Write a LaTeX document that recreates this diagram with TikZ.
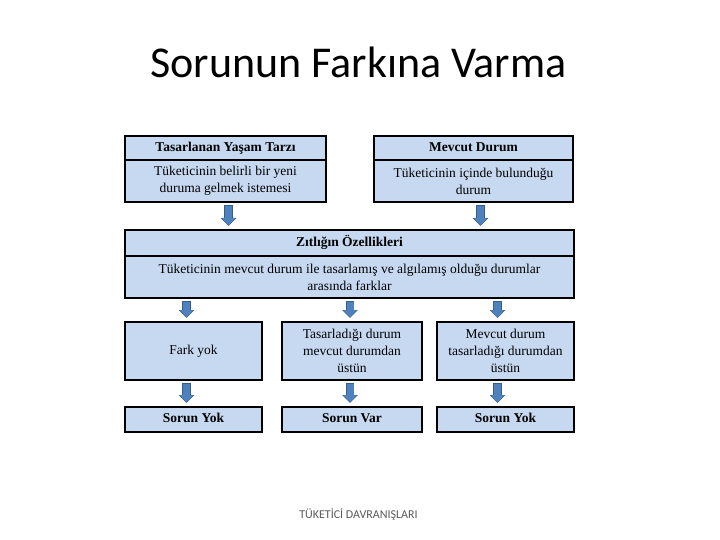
\documentclass[tikz,border=0pt]{standalone}
\usepackage{fontspec}
\setmainfont{Liberation Serif}
\newfontfamily\calibri{Carlito}
\usetikzlibrary{arrows.meta,calc}
\definecolor{boxfill}{RGB}{198,217,241}
\definecolor{arrowblue}{RGB}{79,129,189}
\definecolor{arrowedge}{RGB}{56,93,138}

\begin{document}
\begin{tikzpicture}[x=1pt, y=-1pt,
    box/.style={draw=black, line width=1.6pt, fill=boxfill, align=center,
        inner sep=0pt, font=\fontsize{13.5}{17}\selectfont},
    head/.style={box, font=\fontsize{13.5}{17}\selectfont\bfseries,
        text height=9.5pt, text depth=3pt},
    blk/.style={draw=arrowblue, line width=7pt,
        -{Triangle[length=7pt,width=13pt]}, shorten <=3pt, shorten >=4pt,
        preaction={draw=arrowedge, line width=8.4pt,
            -{Triangle[length=8pt,width=15pt]}, shorten <=2.3pt, shorten >=3.2pt}}]
    \useasboundingbox (0,0) rectangle (720,540);

    \node[font=\calibri\fontsize{44}{48}\selectfont, anchor=base] (title) at (358.5,78) {Sorunun Farkına Varma};

    \node[box, minimum width=201pt, minimum height=42pt] (tasBody) at (225.5,181)
        {Tüketicinin belirli bir yeni\\duruma gelmek istemesi};
    \node[head, minimum width=201pt, minimum height=24pt] (tasHead) at (225.5,148)
        {Tasarlanan Yaşam Tarzı};
    \node[box, minimum width=199pt, minimum height=42pt] (mevBody) at (473.5,181)
        {Tüketicinin içinde bulunduğu\\durum};
    \node[head, minimum width=199pt, minimum height=24pt] (mevHead) at (473.5,148)
        {Mevcut Durum};

    \node[box, minimum width=449pt, minimum height=42pt] (zitBody) at (349.5,277)
        {Tüketicinin mevcut durum ile tasarlamış ve algılamış olduğu durumlar\\arasında farklar};
    \node[head, minimum width=449pt, minimum height=26pt] (zitHead) at (349.5,243)
        {Zıtlığın Özellikleri};

    \node[box, minimum width=137pt, minimum height=58pt] (fark) at (193.5,351) {Fark yok};
    \node[box, minimum width=140pt, minimum height=58pt] (tasUst) at (352,351)
        {Tasarladığı durum\\mevcut durumdan\\üstün};
    \node[box, minimum width=137pt, minimum height=58pt] (mevUst) at (505.5,351)
        {Mevcut durum\\tasarladığı durumdan\\üstün};

    \node[head, minimum width=137pt, minimum height=25pt] (yok1) at (193.5,419.5) {Sorun Yok};
    \node[head, minimum width=140pt, minimum height=25pt] (var) at (352,419.5) {Sorun Var};
    \node[head, minimum width=137pt, minimum height=25pt] (yok2) at (505.5,419.5) {Sorun Yok};

    \draw[blk] ([xshift=3pt]tasBody.south) -- ([xshift=3pt]tasBody.south |- zitHead.north);
    \draw[blk] ([xshift=7pt]mevBody.south) -- ([xshift=7pt]mevBody.south |- zitHead.north);

    \draw[blk] ([xshift=-7pt]fark.north |- zitBody.south) -- ([xshift=-7pt]fark.north);
    \draw[blk] ([xshift=-2pt]tasUst.north |- zitBody.south) -- ([xshift=-2pt]tasUst.north);
    \draw[blk] ([xshift=-8pt]mevUst.north |- zitBody.south) -- ([xshift=-8pt]mevUst.north);

    \draw[blk] ([xshift=-7pt]fark.south) -- ([xshift=-7pt]yok1.north);
    \draw[blk] ([xshift=-2pt]tasUst.south) -- ([xshift=-2pt]var.north);
    \draw[blk] ([xshift=-8pt]mevUst.south) -- ([xshift=-8pt]yok2.north);

    \node[font=\calibri\fontsize{12}{14}\selectfont, text=black!65] (footer) at (358.5,515)
        {TÜKETİCİ DAVRANIŞLARI};
\end{tikzpicture}
\end{document}
